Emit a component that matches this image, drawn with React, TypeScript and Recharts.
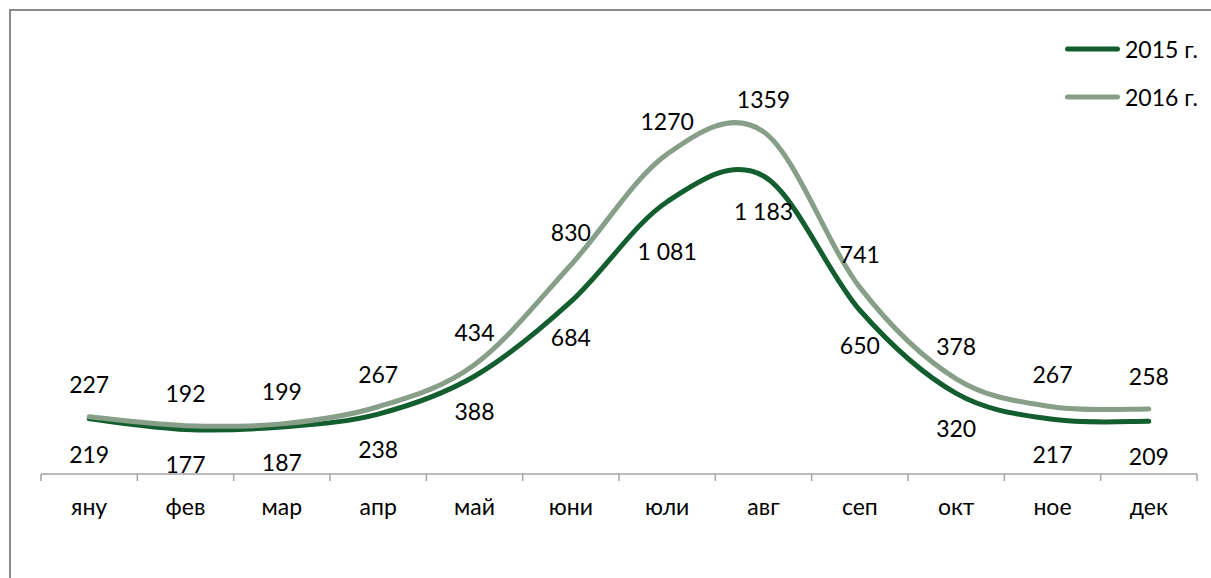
import {
  ComposedChart,
  Legend,
  LabelList,
  Line,
  XAxis,
  YAxis,
} from "recharts";

const MONTHS = ["яну", "фев", "мар", "апр", "май", "юни", "юли", "авг", "сеп", "окт", "ное", "дек"];
const VALUES_2015 = [219, 177, 187, 238, 388, 684, 1081, 1183, 650, 320, 217, 209];
const VALUES_2016 = [227, 192, 199, 267, 434, 830, 1270, 1359, 741, 378, 267, 258];

const data = MONTHS.map((month, i) => ({
  month,
  y2015: VALUES_2015[i],
  y2016: VALUES_2016[i],
}));

const WIDTH = 1211;
const HEIGHT = 578;
const MARGIN = { top: 71, right: 14, left: 41, bottom: 44 };
const BAND = (WIDTH - MARGIN.left - MARGIN.right) / MONTHS.length;

const DARK = "#135e2e";
const LIGHT = "#879f89";
const AXIS = "#a3a3a3";
const FONT = "Lato, 'Open Sans', sans-serif";

// the July 2015 label sits a bit lower in the original (moved by hand there)
const BELOW_NUDGE: Record<number, number> = { 6: 14 };

// Excel-style smoothing: Catmull-Rom converted to cubic Bezier segments
function excelSmooth(context: any) {
  let pts: number[][] = [];
  return {
    areaStart() {},
    areaEnd() {},
    lineStart() {
      pts = [];
    },
    point(x: number, y: number) {
      pts.push([+x, +y]);
    },
    lineEnd() {
      if (!pts.length) return;
      context.moveTo(pts[0][0], pts[0][1]);
      for (let i = 0; i < pts.length - 1; i++) {
        const p0 = pts[i - 1] || pts[i];
        const p1 = pts[i];
        const p2 = pts[i + 1];
        const p3 = pts[i + 2] || p2;
        context.bezierCurveTo(
          p1[0] + (p2[0] - p0[0]) / 6,
          p1[1] + (p2[1] - p0[1]) / 6,
          p2[0] - (p3[0] - p1[0]) / 6,
          p2[1] - (p3[1] - p1[1]) / 6,
          p2[0],
          p2[1],
        );
      }
    },
  };
}

const withSpaces = (v: number) => String(v).replace(/\B(?=(\d{3})+(?!\d))/g, " ");

function MonthTick(props: any) {
  const { x, y, payload, index } = props;
  const half = BAND / 2;
  return (
    <g>
      <line x1={x - half} x2={x - half} y1={y} y2={y + 7} stroke={AXIS} strokeWidth={1.5} />
      {index === MONTHS.length - 1 && (
        <line x1={x + half} x2={x + half} y1={y} y2={y + 7} stroke={AXIS} strokeWidth={1.5} />
      )}
      <text
        x={x}
        y={y + 32}
        textAnchor="middle"
        dominantBaseline="central"
        fontFamily={FONT}
        fontSize={23}
        fill="#000"
      >
        {payload.value}
      </text>
    </g>
  );
}

function LabelAbove(props: any) {
  const { x, y, value } = props;
  return (
    <text x={x} y={y - 33} textAnchor="middle" dominantBaseline="central" fontFamily={FONT} fontSize={23} fill="#000">
      {value}
    </text>
  );
}

function LabelBelow(props: any) {
  const { x, y, value, index } = props;
  const dy = 35 + (BELOW_NUDGE[index] || 0);
  return (
    <text x={x} y={y + dy} textAnchor="middle" dominantBaseline="central" fontFamily={FONT} fontSize={23} fill="#000">
      {withSpaces(value)}
    </text>
  );
}

function renderLegend(props: any) {
  const { payload } = props;
  return (
    <div>
      {(payload || []).map((entry: any) => (
        <div key={entry.value} style={{ display: "flex", alignItems: "center", height: 48 }}>
          <svg width={60} height={10}>
            <line x1={5.5} x2={55.5} y1={5} y2={5} stroke={entry.color} strokeWidth={5} strokeLinecap="round" />
          </svg>
          <span style={{ marginLeft: 3, fontFamily: FONT, fontSize: 23, color: "#000", lineHeight: "48px" }}>
            {entry.value}
          </span>
        </div>
      ))}
    </div>
  );
}

export default function App() {
  return (
    <div
      style={{
        position: "absolute",
        left: 0,
        top: 0,
        width: WIDTH,
        height: HEIGHT,
        overflow: "hidden",
        background: "#fff",
      }}
    >
      <div
        style={{
          position: "absolute",
          left: 9,
          top: 9,
          width: WIDTH + 40,
          height: HEIGHT + 40,
          borderTop: "2px solid #8a8a8a",
          borderLeft: "2px solid #8a8a8a",
        }}
      />
      <ComposedChart width={WIDTH} height={HEIGHT} data={data} margin={MARGIN}>
        <XAxis
          dataKey="month"
          scale="band"
          axisLine={{ stroke: AXIS, strokeWidth: 1.5 }}
          tickLine={false}
          tickSize={0}
          tickMargin={0}
          height={60}
          interval={0}
          tick={MonthTick}
        />
        <YAxis hide domain={[0, 1600]} />
        <Legend
          layout="vertical"
          align="center"
          verticalAlign="middle"
          content={renderLegend}
          wrapperStyle={{ position: "absolute", left: 1062, top: 25, width: 150, height: "auto" }}
        />
        <Line
          name="2015 г."
          dataKey="y2015"
          type={excelSmooth as any}
          stroke={DARK}
          strokeWidth={5}
          strokeLinecap="round"
          dot={false}
          activeDot={false}
          isAnimationActive={false}
        >
          <LabelList dataKey="y2015" content={LabelBelow} />
        </Line>
        <Line
          name="2016 г."
          dataKey="y2016"
          type={excelSmooth as any}
          stroke={LIGHT}
          strokeWidth={5}
          strokeLinecap="round"
          dot={false}
          activeDot={false}
          isAnimationActive={false}
        >
          <LabelList dataKey="y2016" content={LabelAbove} />
        </Line>
      </ComposedChart>
    </div>
  );
}
